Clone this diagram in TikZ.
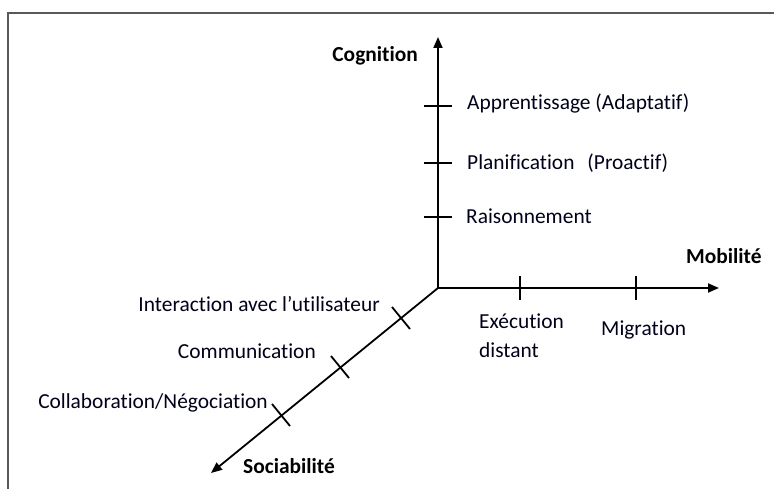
\documentclass[tikz,border=0pt]{standalone}
\usepackage{fontspec}
\setmainfont{Carlito}[Ligatures=NoCommon,RawFeature={-liga;-clig}]
\usetikzlibrary{arrows.meta}
\begin{document}
\begin{tikzpicture}[x=1pt,y=-1pt,
  axis/.style={line width=1.8pt,-{Triangle[length=11pt,width=9pt]}},
  tick/.style={line width=1.8pt},
  lbl/.style={font=\fontsize{21.4}{29}\selectfont,inner sep=0pt,text=black!90!blue},
  blbl/.style={lbl,font=\fontsize{21.4}{29}\selectfont\bfseries,text=black},
  frame/.style={line width=1.6pt,draw=black!65}]
\useasboundingbox (0,0) rectangle (774,489);
\draw[frame] (8,489) -- (8,13) -- (774,13);
% axes
\coordinate (O) at (438,288);
\coordinate (Ctip) at (438,37);
\coordinate (Mtip) at (719,288);
\coordinate (Stip) at (211,473);
\draw[axis] (O) -- (Ctip);
\draw[axis] (O) -- (Mtip);
\draw[axis] (O) -- (Stip);
% ticks on cognition axis
\foreach \y in {106,163,217}{\draw[tick] (424,\y) -- (452,\y);}
% ticks on mobility axis
\foreach \x in {520,636}{\draw[tick] (\x,276) -- (\x,300);}
% ticks on sociability axis
\foreach \x/\y in {401/318,340/367,281/415}{\draw[tick] (\x-9,\y-11) -- (\x+9,\y+11);}
% labels
\node[blbl,anchor=east] (cog) at (418,56) {Cognition};
\node[lbl,anchor=west] (app) at (467,104) {Apprentissage (Adaptatif)};
\node[lbl,anchor=west] (pla) at (467,163) {Planification\hspace{13pt}(Proactif)};
\node[lbl,anchor=west] (rai) at (466,216) {Raisonnement};
\node[blbl,anchor=west] (mob) at (686,256) {Mobilité};
\node[lbl,anchor=north west,align=left] (exe) at (479,314) {Exécution\\distant};
\node[lbl,anchor=west] (mig) at (601,330) {Migration};
\node[lbl,anchor=east] (int) at (380,304) {Interaction avec l’utilisateur};
\node[lbl,anchor=east] (com) at (316,351) {Communication};
\node[lbl,anchor=east] (col) at (268,403) {Collaboration/Négociation};
\node[blbl,anchor=west] (soc) at (243,466) {Sociabilité};
\end{tikzpicture}
\end{document}
